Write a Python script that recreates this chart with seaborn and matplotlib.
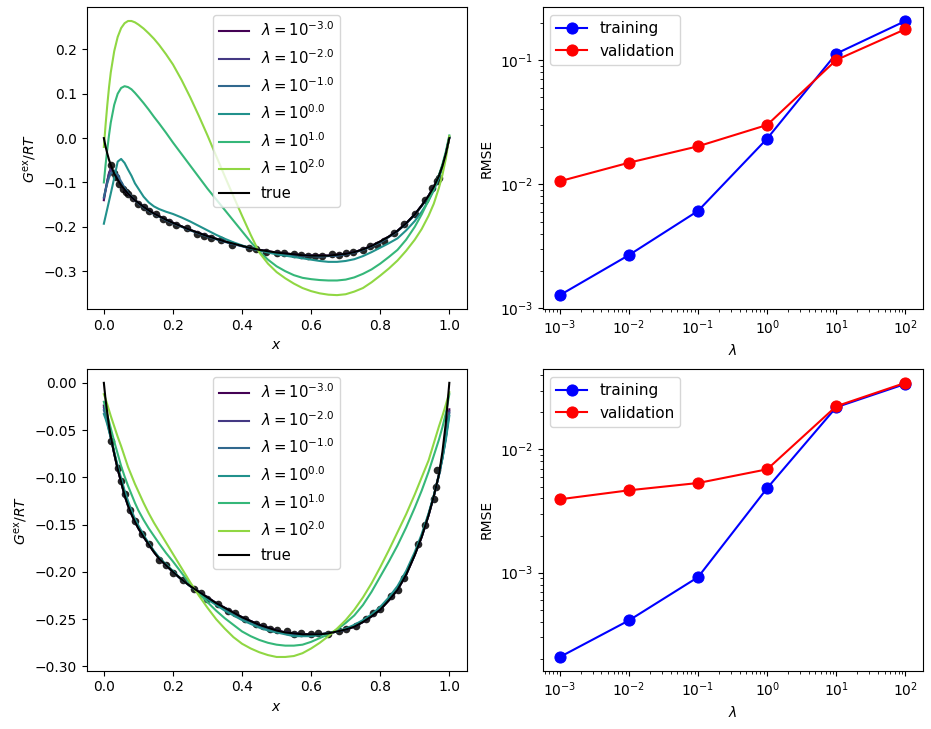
import numpy as np
import matplotlib
matplotlib.use('Agg')
import matplotlib.pyplot as plt
import seaborn as sns

# regularisation strengths (exponents) and the x grid the fitted curves were read on
log_lams = [-3.0, -2.0, -1.0, 0.0, 1.0, 2.0]
lam_vals = [1e-3, 1e-2, 1e-1, 1e0, 1e1, 1e2]
x_grid = [0, 0.005, 0.01, 0.015, 0.02, 0.03, 0.04, 0.05, 0.06, 0.07, 0.08, 0.09, 0.1, 0.115,
          0.13, 0.145, 0.16, 0.18, 0.2, 0.225, 0.25, 0.275, 0.3, 0.325, 0.35, 0.375, 0.4, 0.425,
          0.45, 0.475, 0.5, 0.525, 0.55, 0.575, 0.6, 0.625, 0.65, 0.675, 0.7, 0.725, 0.75, 0.775,
          0.8, 0.825, 0.85, 0.875, 0.9, 0.92, 0.94, 0.955, 0.97, 0.98, 0.99, 1.0]

#%%
# top row: noisy data set
true_top = [0.0, -0.019, -0.035, -0.049, -0.061, -0.080, -0.094, -0.106, -0.116, -0.125, -0.133,
            -0.140, -0.146, -0.155, -0.163, -0.170, -0.176, -0.184, -0.191, -0.199, -0.207, -0.214,
            -0.221, -0.227, -0.233, -0.238, -0.243, -0.248, -0.252, -0.255, -0.258, -0.260, -0.262,
            -0.264, -0.265, -0.265, -0.265, -0.263, -0.261, -0.257, -0.251, -0.243, -0.233, -0.222,
            -0.209, -0.192, -0.172, -0.152, -0.130, -0.110, -0.085, -0.063, -0.035, 0.0]
fit_top_m3 = [-0.140, -0.118, -0.097, -0.078, -0.069, -0.078, -0.092, -0.105, -0.116, -0.125, -0.133,
              -0.140, -0.146, -0.155, -0.163, -0.170, -0.176, -0.184, -0.191, -0.199, -0.207, -0.214,
              -0.221, -0.227, -0.233, -0.238, -0.243, -0.248, -0.252, -0.255, -0.258, -0.260, -0.262,
              -0.264, -0.265, -0.265, -0.265, -0.263, -0.261, -0.257, -0.251, -0.243, -0.233, -0.222,
              -0.209, -0.192, -0.172, -0.152, -0.130, -0.110, -0.085, -0.063, -0.035, 0.001]
fit_top_m2 = [-0.136, -0.115, -0.096, -0.080, -0.071, -0.076, -0.091, -0.105, -0.116, -0.125, -0.133,
              -0.140, -0.146, -0.155, -0.163, -0.170, -0.176, -0.184, -0.191, -0.199, -0.207, -0.214,
              -0.221, -0.227, -0.233, -0.238, -0.243, -0.248, -0.252, -0.256, -0.258, -0.261, -0.263,
              -0.264, -0.265, -0.266, -0.265, -0.264, -0.261, -0.257, -0.251, -0.243, -0.234, -0.222,
              -0.209, -0.192, -0.172, -0.152, -0.130, -0.110, -0.085, -0.063, -0.035, 0.001]
fit_top_m1 = [-0.133, -0.117, -0.102, -0.089, -0.080, -0.074, -0.083, -0.098, -0.112, -0.123, -0.132,
              -0.140, -0.147, -0.156, -0.164, -0.171, -0.177, -0.185, -0.192, -0.200, -0.208, -0.215,
              -0.222, -0.228, -0.234, -0.239, -0.244, -0.249, -0.253, -0.256, -0.259, -0.262, -0.264,
              -0.265, -0.266, -0.267, -0.266, -0.265, -0.262, -0.258, -0.252, -0.244, -0.235, -0.223,
              -0.210, -0.193, -0.173, -0.153, -0.131, -0.111, -0.086, -0.063, -0.035, 0.002]
fit_top_0 = [-0.193, -0.176, -0.159, -0.142, -0.125, -0.090, -0.053, -0.047, -0.056, -0.071, -0.085,
             -0.102, -0.114, -0.132, -0.145, -0.154, -0.160, -0.166, -0.171, -0.179, -0.188, -0.198,
             -0.208, -0.218, -0.227, -0.235, -0.242, -0.248, -0.253, -0.258, -0.262, -0.265, -0.268,
             -0.271, -0.274, -0.277, -0.279, -0.279, -0.277, -0.273, -0.266, -0.257, -0.247, -0.237,
             -0.226, -0.208, -0.187, -0.166, -0.141, -0.118, -0.090, -0.066, -0.036, 0.002]
fit_top_1 = [-0.100, -0.060, -0.025, 0.007, 0.035, 0.075, 0.100, 0.113, 0.117, 0.115, 0.110,
             0.102, 0.093, 0.079, 0.064, 0.048, 0.033, 0.012, -0.010, -0.036, -0.062, -0.088,
             -0.114, -0.138, -0.162, -0.186, -0.210, -0.234, -0.256, -0.274, -0.289, -0.300, -0.309,
             -0.315, -0.318, -0.320, -0.321, -0.321, -0.319, -0.314, -0.306, -0.296, -0.283, -0.268,
             -0.252, -0.229, -0.200, -0.172, -0.140, -0.114, -0.083, -0.059, -0.030, 0.006]
fit_top_2 = [-0.020, 0.030, 0.075, 0.115, 0.148, 0.196, 0.228, 0.248, 0.259, 0.264, 0.264,
             0.261, 0.256, 0.247, 0.236, 0.224, 0.210, 0.189, 0.166, 0.131, 0.092, 0.050,
             0.006, -0.040, -0.086, -0.131, -0.175, -0.218, -0.258, -0.283, -0.302, -0.316, -0.328,
             -0.338, -0.345, -0.350, -0.353, -0.354, -0.352, -0.346, -0.338, -0.325, -0.310, -0.294,
             -0.276, -0.254, -0.229, -0.205, -0.175, -0.148, -0.112, -0.083, -0.046, 0.004]
dots_top_x = [0.02, 0.03, 0.035, 0.045, 0.055, 0.065, 0.07, 0.085, 0.1, 0.115, 0.13, 0.15, 0.17, 0.19,
              0.21, 0.24, 0.27, 0.29, 0.31, 0.34, 0.37, 0.42, 0.44, 0.47, 0.5, 0.52, 0.55, 0.57, 0.59,
              0.61, 0.63, 0.66, 0.68, 0.7, 0.72, 0.75, 0.77, 0.79, 0.81, 0.84, 0.87, 0.9, 0.93, 0.95,
              0.965, 0.97]
dots_top_y = [-0.060, -0.079, -0.088, -0.103, -0.115, -0.121, -0.127, -0.136, -0.149, -0.156, -0.165,
              -0.171, -0.183, -0.190, -0.197, -0.203, -0.216, -0.220, -0.226, -0.229, -0.240, -0.248,
              -0.250, -0.256, -0.259, -0.260, -0.262, -0.264, -0.266, -0.265, -0.266, -0.262, -0.264,
              -0.260, -0.256, -0.252, -0.244, -0.240, -0.231, -0.214, -0.193, -0.172, -0.140, -0.113,
              -0.096, -0.090]
train_top = [1.28e-3, 2.69e-3, 6.1e-3, 2.33e-2, 1.125e-1, 2.06e-1]
valid_top = [1.057e-2, 1.49e-2, 2.02e-2, 3.0e-2, 1.0e-1, 1.77e-1]

#%%
# bottom row: clean data set
true_bot = [0.0, -0.018, -0.032, -0.046, -0.057, -0.075, -0.091, -0.105, -0.119, -0.130, -0.139,
            -0.147, -0.154, -0.163, -0.171, -0.179, -0.186, -0.193, -0.200, -0.208, -0.215, -0.221,
            -0.227, -0.233, -0.238, -0.243, -0.248, -0.252, -0.256, -0.259, -0.262, -0.264, -0.265,
            -0.266, -0.266, -0.266, -0.265, -0.263, -0.261, -0.258, -0.253, -0.247, -0.240, -0.230,
            -0.219, -0.203, -0.182, -0.163, -0.140, -0.120, -0.097, -0.073, -0.042, 0.0]
fit_bot_m3 = [-0.024, -0.031, -0.039, -0.048, -0.057, -0.075, -0.091, -0.105, -0.119, -0.130, -0.139,
              -0.147, -0.154, -0.163, -0.171, -0.179, -0.186, -0.193, -0.200, -0.208, -0.215, -0.221,
              -0.227, -0.233, -0.238, -0.243, -0.248, -0.252, -0.256, -0.259, -0.262, -0.264, -0.265,
              -0.266, -0.266, -0.266, -0.265, -0.263, -0.261, -0.258, -0.253, -0.247, -0.240, -0.230,
              -0.219, -0.203, -0.182, -0.163, -0.140, -0.120, -0.097, -0.078, -0.056, -0.028]
fit_bot_m2 = [-0.026, -0.033, -0.040, -0.049, -0.057, -0.075, -0.091, -0.105, -0.119, -0.130, -0.139,
              -0.147, -0.154, -0.163, -0.171, -0.179, -0.186, -0.193, -0.200, -0.208, -0.215, -0.221,
              -0.227, -0.233, -0.238, -0.243, -0.248, -0.252, -0.256, -0.259, -0.262, -0.264, -0.265,
              -0.266, -0.266, -0.266, -0.265, -0.263, -0.261, -0.258, -0.253, -0.247, -0.240, -0.230,
              -0.219, -0.203, -0.182, -0.163, -0.140, -0.120, -0.097, -0.079, -0.057, -0.030]
fit_bot_m1 = [-0.029, -0.035, -0.042, -0.050, -0.058, -0.074, -0.089, -0.103, -0.116, -0.127, -0.137,
              -0.145, -0.152, -0.162, -0.170, -0.178, -0.185, -0.193, -0.200, -0.208, -0.215, -0.221,
              -0.228, -0.234, -0.239, -0.244, -0.249, -0.253, -0.257, -0.260, -0.263, -0.265, -0.266,
              -0.267, -0.267, -0.266, -0.265, -0.263, -0.261, -0.257, -0.252, -0.246, -0.239, -0.229,
              -0.217, -0.201, -0.181, -0.162, -0.139, -0.120, -0.098, -0.080, -0.058, -0.032]
fit_bot_0 = [-0.033, -0.038, -0.044, -0.051, -0.058, -0.073, -0.088, -0.101, -0.114, -0.125, -0.135,
             -0.144, -0.151, -0.161, -0.170, -0.178, -0.185, -0.192, -0.199, -0.208, -0.215, -0.222,
             -0.229, -0.235, -0.241, -0.246, -0.251, -0.255, -0.259, -0.262, -0.264, -0.266, -0.268,
             -0.268, -0.268, -0.267, -0.265, -0.263, -0.260, -0.256, -0.251, -0.245, -0.237, -0.227,
             -0.215, -0.199, -0.179, -0.160, -0.138, -0.119, -0.097, -0.080, -0.060, -0.035]
fit_bot_1 = [-0.020, -0.027, -0.034, -0.041, -0.048, -0.062, -0.075, -0.088, -0.099, -0.109, -0.118,
             -0.127, -0.135, -0.145, -0.154, -0.162, -0.170, -0.180, -0.189, -0.201, -0.213, -0.223,
             -0.232, -0.241, -0.249, -0.256, -0.263, -0.268, -0.272, -0.275, -0.277, -0.278, -0.278,
             -0.277, -0.274, -0.270, -0.266, -0.261, -0.254, -0.246, -0.235, -0.221, -0.205, -0.189,
             -0.172, -0.153, -0.132, -0.114, -0.094, -0.077, -0.060, -0.047, -0.032, -0.012]
fit_bot_2 = [-0.012, -0.017, -0.023, -0.029, -0.035, -0.046, -0.057, -0.067, -0.078, -0.089, -0.098,
             -0.107, -0.115, -0.127, -0.138, -0.148, -0.157, -0.169, -0.181, -0.196, -0.211, -0.225,
             -0.238, -0.250, -0.260, -0.269, -0.276, -0.281, -0.285, -0.288, -0.290, -0.290, -0.289,
             -0.286, -0.281, -0.275, -0.268, -0.260, -0.251, -0.240, -0.227, -0.212, -0.195, -0.177,
             -0.158, -0.139, -0.118, -0.100, -0.082, -0.064, -0.046, -0.035, -0.023, -0.010]
dots_bot_x = [0.02, 0.04, 0.05, 0.06, 0.075, 0.09, 0.11, 0.13, 0.16, 0.18, 0.2, 0.23, 0.26, 0.28, 0.3,
              0.33, 0.36, 0.38, 0.41, 0.44, 0.46, 0.48, 0.5, 0.53, 0.55, 0.57, 0.6, 0.62, 0.65, 0.68,
              0.7, 0.73, 0.76, 0.78, 0.8, 0.83, 0.85, 0.87, 0.91, 0.93, 0.955, 0.96, 0.965]
dots_bot_y = [-0.061, -0.090, -0.104, -0.118, -0.135, -0.146, -0.160, -0.171, -0.187, -0.193, -0.201,
              -0.209, -0.218, -0.222, -0.229, -0.234, -0.241, -0.244, -0.250, -0.255, -0.257, -0.260,
              -0.261, -0.263, -0.266, -0.265, -0.266, -0.265, -0.266, -0.263, -0.260, -0.257, -0.250,
              -0.243, -0.239, -0.226, -0.219, -0.206, -0.171, -0.150, -0.123, -0.110, -0.092]
train_bot = [2.07e-4, 4.1e-4, 9.2e-4, 4.85e-3, 2.2e-2, 3.4e-2]
valid_bot = [3.94e-3, 4.66e-3, 5.34e-3, 6.9e-3, 2.24e-2, 3.47e-2]

rows = [
    dict(fits=[fit_top_m3, fit_top_m2, fit_top_m1, fit_top_0, fit_top_1, fit_top_2],
         true=true_top, dx=dots_top_x, dy=dots_top_y, train=train_top, valid=valid_top),
    dict(fits=[fit_bot_m3, fit_bot_m2, fit_bot_m1, fit_bot_0, fit_bot_1, fit_bot_2],
         true=true_bot, dx=dots_bot_x, dy=dots_bot_y, train=train_bot, valid=valid_bot),
]

colors = plt.cm.viridis(np.linspace(0, 1, 7))[:6]

#%%
fig, axes = plt.subplots(2, 2, figsize=(9.31, 7.29), dpi=100)
plt.subplots_adjust(left=0.093, right=0.991, bottom=0.08, top=0.99, wspace=0.2, hspace=0.2)

for r, row in enumerate(rows):
    ax = axes[r, 0]
    sns.scatterplot(x=row['dx'], y=row['dy'], color='black', s=30, linewidth=0,
                    alpha=0.85, legend=False, ax=ax)
    for e, fit, c in zip(log_lams, row['fits'], colors):
        sns.lineplot(x=x_grid, y=fit, color=c, linewidth=1.5, ax=ax,
                     label=rf'$\lambda = 10^{{{e:.1f}}}$')
    sns.lineplot(x=x_grid, y=row['true'], color='black', linewidth=1.5, ax=ax, label='true')
    ax.set_xlabel(r'$x$')
    ax.set_ylabel(r'$G^{\mathrm{ex}}/RT$')
    ax.legend(loc='upper center', fontsize=10.7, labelspacing=0.6)

    ax = axes[r, 1]
    sns.lineplot(x=lam_vals, y=row['train'], color='blue', marker='o', markersize=8,
                 markeredgecolor='blue', ax=ax, label='training')
    sns.lineplot(x=lam_vals, y=row['valid'], color='red', marker='o', markersize=8,
                 markeredgecolor='red', ax=ax, label='validation')
    ax.set_xscale('log')
    ax.set_yscale('log')
    ax.set_xlabel(r'$\lambda$')
    ax.set_ylabel('RMSE')
    ax.legend(loc='upper left', fontsize=11)

axes[1, 0].set_yticks([0.0, -0.05, -0.10, -0.15, -0.20, -0.25, -0.30])

plt.savefig('out.png', dpi=100)
